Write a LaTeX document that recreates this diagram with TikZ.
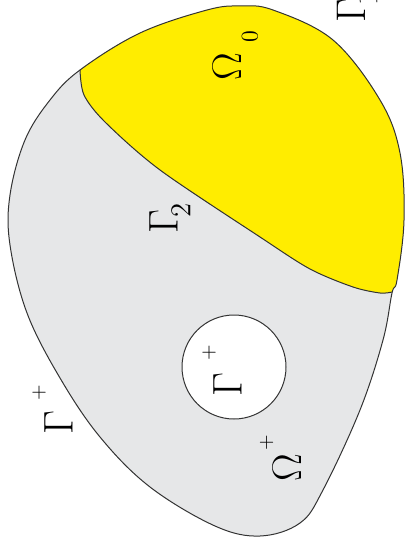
\documentclass[tikz,border=0pt]{standalone}
\usepackage{amsmath,amssymb}
\usetikzlibrary{positioning}
\definecolor{regionyellow}{HTML}{FFED00}
\definecolor{regiongray}{HTML}{E6E7E8}
\tikzset{
  boundary/.style={draw=black!80,line width=0.5pt},
  biglabel/.style={rotate=90,inner sep=0pt,font=\huge},
  indexlabel/.style={rotate=90,inner sep=0pt,font=\Large},
  signlabel/.style={rotate=90,inner sep=0pt,font=\normalsize},
}
% outer boundary of the domain, in pixel units
\newcommand{\outerline}{plot[smooth cycle,tension=0.6] coordinates {
  (80,70) (140,33) (207,10) (240,6) (273,10) (333,40) (380,100)
  (400,153) (404,220) (397,280) (392,293) (383,340) (360,410)
  (323,490) (300,523) (260,536) (215,526) (150,487) (100,437)
  (60,378) (27,313) (10,245) (10,195) (25,140) (50,100)}}

\begin{document}
\begin{tikzpicture}[x=0.5pt,y=-0.5pt]
\useasboundingbox (0,0) rectangle (405,549);

\fill[regiongray] \outerline;
\begin{scope}
  \clip \outerline;
  \fill[regionyellow] (430,-30) -- (40,-30) -- (60,60) -- plot[smooth] coordinates {
    (80,70) (84,95) (105,122) (160,170) (260,237) (310,269)
    (353,287) (380,293) (392,292)} -- (430,300) -- cycle;
\end{scope}
% divide between the two regions
\draw[boundary] plot[smooth] coordinates {
  (80,70) (84,95) (105,122) (160,170) (260,237) (310,269)
  (353,287) (380,293) (392,292)};
\draw[boundary] \outerline;
\draw[boundary,fill=white] (234,367) circle (26pt);

% labels
\node[biglabel] (gout) at (58.5,422.5) {$\Gamma$};
\node[signlabel] (goutsign) at (39,392.5) {$+$};
\node[biglabel] (gtwo) at (163.5,221.5) {$\Gamma$};
\node[indexlabel] (gtwoidx) at (181,210.5) {$2$};
\node[biglabel] (ozero) at (227,67) {$\Omega$};
\node[signlabel,font=\large] (ozeroidx) at (250,37) {$0$};
\node[biglabel] (gin) at (227.5,384.5) {$\Gamma$};
\node[signlabel] (ginsign) at (209,353) {$+$};
\node[biglabel] (oplus) at (287,468) {$\Omega$};
\node[signlabel] (oplussign) at (266.5,442.5) {$+$};
\node[biglabel] (gone) at (351,11) {$\Gamma$};
\node[indexlabel] (goneidx) at (368,-2) {$1$};
\end{tikzpicture}
\end{document}
